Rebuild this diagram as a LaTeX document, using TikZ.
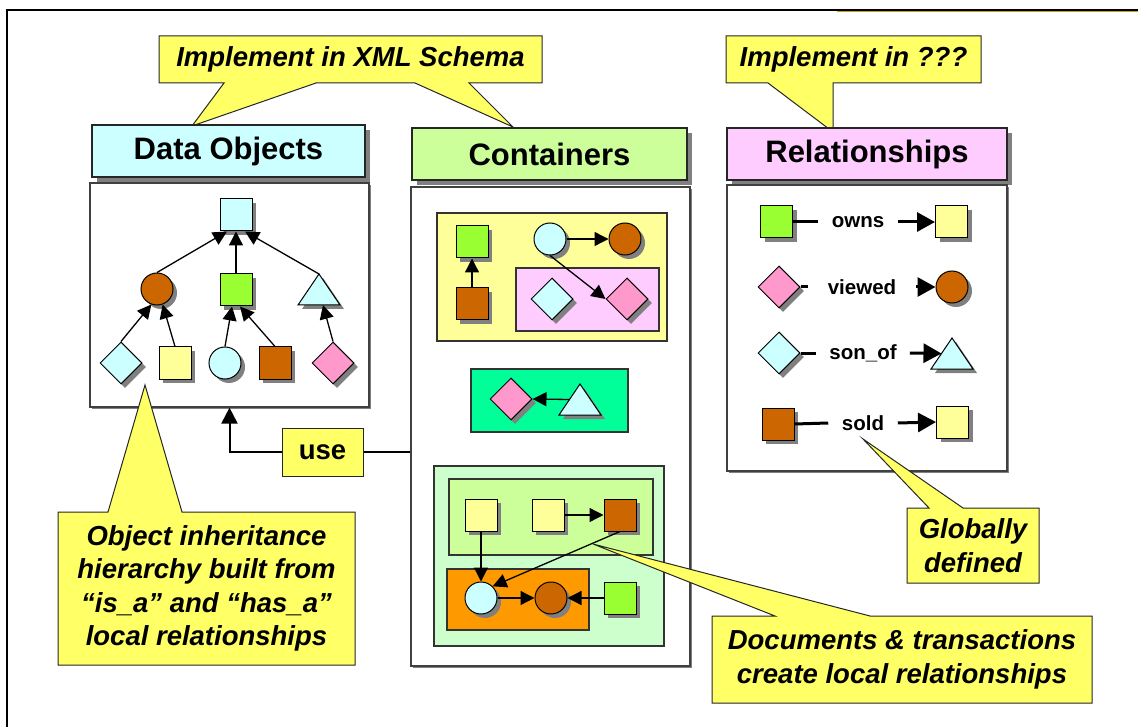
\documentclass[tikz,border=0pt]{standalone}
\usepackage{fontspec}
\setmainfont{Liberation Sans}
\usetikzlibrary{arrows.meta,shapes.geometric,shadows,calc}

\definecolor{callout}{HTML}{FFFF66}
\definecolor{hdcyan}{HTML}{CCFFFF}
\definecolor{hdgreen}{HTML}{CCFF99}
\definecolor{hdpink}{HTML}{FFCCFF}
\definecolor{shcyan}{HTML}{CCFFFF}
\definecolor{shbrown}{HTML}{CC6600}
\definecolor{shlime}{HTML}{99FF33}
\definecolor{shyellow}{HTML}{FFFF99}
\definecolor{shpink}{HTML}{FF99CC}
\definecolor{pnlteal}{HTML}{00FF99}
\definecolor{pnlorange}{HTML}{FF9900}
\definecolor{pnlmint}{HTML}{CCFFCC}
\definecolor{shadowgray}{HTML}{808080}
\definecolor{rulegold}{HTML}{C8A400}

\tikzset{
  shd/.style={general shadow={fill=shadowgray, shadow xshift=4pt, shadow yshift=-4pt}},
  sq/.style={shd, rectangle, draw=black, line width=1pt, minimum size=32pt, inner sep=0pt},
  circ/.style={shd, circle, draw=black, line width=1pt, minimum size=32pt, inner sep=0pt},
  dia/.style={shd, diamond, draw=black, line width=1pt, minimum width=42pt, minimum height=42pt, inner sep=0pt},
  arr/.style={line width=1.3pt, -{Triangle[length=14pt,width=14pt]}},
  header/.style={rectangle, draw=black!85, line width=1.2pt, inner sep=0pt,
    general shadow={fill=shadowgray, shadow xshift=5pt, shadow yshift=-5pt},
    font=\fontsize{31}{36}\selectfont\bfseries},
  body/.style={rectangle, draw=black!75, fill=white, line width=1.2pt, inner sep=0pt,
    general shadow={fill=shadowgray, shadow xshift=2pt, shadow yshift=-2pt}},
  panel/.style={rectangle, draw=black!80, line width=1.2pt, inner sep=0pt},
  callbox/.style={fill=callout, draw=black!85, line width=1pt, line join=miter},
  calltext/.style={font=\fontsize{27.5}{33.5}\selectfont\bfseries\itshape, align=center, inner sep=0pt},
  rlbl/.style={font=\fontsize{20.5}{24}\selectfont\bfseries, inner ysep=0pt, inner xsep=14pt},
  rline/.style={line width=3pt},
  rarr/.style={line width=3pt, -{Triangle[length=18pt,width=19pt]}},
}

% triangle with drop shadow: name, apex x, apex y, fill colour
\newcommand\trinode[4]{%
  \fill[shadowgray] ($(#2,#3)+(4,4)$) -- ++(21,31) -- ++(-42,0) -- cycle;
  \draw[fill=#4, line width=1pt, line join=miter]
    (#2,#3) coordinate (#1-apex) -- ++(21,31) coordinate (#1-right)
    -- ++(-42,0) coordinate (#1-left) -- cycle;
  \coordinate (#1-base) at ($(#1-left)!0.5!(#1-right)$);
  \coordinate (#1-wmid) at ($(#1-apex)!0.5!(#1-left)$);
}

\begin{document}
\begin{tikzpicture}[x=1pt, y=-1pt]
\useasboundingbox (0,0) rectangle (1138,727);

% page frame
\draw[line width=2pt] (6.5,727) -- (6.5,10) -- (1138,10);
\draw[rulegold, line width=1pt] (837,11.8) -- (1138,11.8);

% ---- upper callouts
\draw[callbox] (159,36) -- (542,36) -- (542,83) -- (469,83) -- (513,127)
  -- (415,83) -- (316,83) -- (192,126) -- (224,83) -- (159,83) -- cycle;
\node[calltext] (co-xml) at (350.5,59.5) {Implement in XML Schema};

\draw[callbox] (726,36) -- (981,36) -- (981,83) -- (833,83) -- (833,132)
  -- (768,83) -- (726,83) -- cycle;
\node[calltext] (co-qq) at (853.5,59.5) {Implement in ???};

% ---- headers
\node[header, fill=hdcyan, minimum width=273pt, minimum height=52pt] (do-head) at (228.5,151) {Data Objects};
\node[header, fill=hdgreen, minimum width=275pt, minimum height=52pt] (ct-head) at (549.5,154) {Containers};
\node[header, fill=hdpink, minimum width=280pt, minimum height=52pt] (rl-head) at (867,154) {Relationships};

% ---- bodies
\node[body, minimum width=279pt, minimum height=224pt] (do-body) at (229.5,295) {};
\node[body, minimum width=279pt, minimum height=479pt] (ct-body) at (550.5,426.5) {};
\node[body, minimum width=280pt, minimum height=286pt] (rl-body) at (867,328) {};

% ---- data object hierarchy
\node[sq, fill=shcyan] (do-top) at (236,215) {};
\node[circ, fill=shbrown] (do-circ) at (157,289) {};
\node[sq, fill=shlime] (do-green) at (236,290) {};
\trinode{do-tri}{319}{274}{shcyan}
\node[dia, fill=shcyan] (do-dia) at (121,363) {};
\node[sq, fill=shyellow] (do-ysq) at (175,363) {};
\node[circ, fill=shcyan] (do-ccirc) at (225,363) {};
\node[sq, fill=shbrown] (do-bsq) at (275,363) {};
\node[dia, fill=shpink] (do-pdia) at (333,363) {};

\draw[arr] (do-circ.north) -- ($(do-top.south)+(-9,0)$);
\draw[arr] (do-green.north) -- (do-top.south);
\draw[arr] (do-tri-apex) -- ($(do-top.south)+(9,0)$);
\draw[arr] (do-dia.north) -- (do-circ.250);
\draw[arr] (do-ysq.north) -- (do-circ.290);
\draw[arr] (do-ccirc.north) -- ($(do-green.south)+(-4,0)$);
\draw[arr] (do-bsq.north) -- ($(do-green.south)+(4,0)$);
\draw[arr] (do-pdia.north) -- ($(do-tri-base)+(4,0)$);

% ---- containers: first document
\node[panel, fill=shyellow, minimum width=230pt, minimum height=128pt] (c1-panel) at (552,277) {};
\node[panel, fill=hdpink, minimum width=143pt, minimum height=63pt] (c1-sub) at (587.5,299.5) {};
\node[sq, fill=shlime] (c1-g) at (472,242) {};
\node[sq, fill=shbrown] (c1-b) at (472,304) {};
\node[circ, fill=shcyan] (c1-cc) at (550,239) {};
\node[circ, fill=shbrown] (c1-bc) at (625,239) {};
\node[dia, fill=shcyan] (c1-cd) at (552,299) {};
\node[dia, fill=shpink] (c1-pd) at (627,299) {};
\draw[arr] (c1-b.north) -- (c1-g.south);
\draw[arr] (c1-cc.east) -- (c1-bc.west);
\draw[arr] (c1-cc.south) -- (c1-pd.west);

% ---- containers: second document
\node[panel, fill=pnlteal, minimum width=157pt, minimum height=63pt] (c2-panel) at (549.5,400.5) {};
\node[dia, fill=shpink] (c2-pd) at (511,399) {};
\trinode{c2-tri}{580}{384}{shcyan}
\draw[arr] (c2-tri-wmid) -- (c2-pd.east);

% ---- containers: transaction
\node[panel, fill=pnlmint, minimum width=230pt, minimum height=180pt] (c3-panel) at (549,556) {};
\node[panel, fill=hdgreen, minimum width=204pt, minimum height=76pt] (c3-top) at (551,517) {};
\node[panel, fill=pnlorange, minimum width=142pt, minimum height=61pt] (c3-low) at (518,599.5) {};
\node[sq, fill=shyellow] (c3-y1) at (481,515) {};
\node[sq, fill=shyellow] (c3-y2) at (548,515) {};
\node[sq, fill=shbrown] (c3-b) at (620,515) {};
\node[circ, fill=shcyan] (c3-cc) at (481,598) {};
\node[circ, fill=shbrown] (c3-bc) at (551,598) {};
\node[sq, fill=shlime] (c3-g) at (620,598) {};
\draw[arr] (c3-y2.east) -- (c3-b.west);
\draw[arr] (c3-y1.south) -- (c3-cc.north);
\draw[arr] (c3-b.south) -- (c3-cc.45);
\draw[arr] (c3-cc.east) -- (c3-bc.west);
\draw[arr] (c3-g.west) -- (c3-bc.east);

% ---- relationships
\node[sq, fill=shlime] (r1-a) at (776.5,222) {};
\node[rlbl] (r1-l) at (858,222) {owns};
\node[sq, fill=shyellow] (r1-b) at (951.5,222) {};
\draw[rline] (r1-a.east) -- (r1-l.west);
\draw[rarr] (r1-l.east) -- (r1-b.west);

\node[dia, fill=shpink] (r2-a) at (779,287) {};
\node[rlbl, inner xsep=20pt] (r2-l) at (862,287) {viewed};
\node[circ, fill=shbrown] (r2-b) at (952,287) {};
\draw[rline] (r2-a.east) -- (r2-l.west);
\draw[rarr] (r2-l.east) -- (r2-b.west);

\node[dia, fill=shcyan] (r3-a) at (779,353) {};
\node[rlbl, inner xsep=13pt] (r3-l) at (863,353) {son\_of};
\trinode{r3-b}{952}{338}{shcyan}
\draw[rline] (r3-a.east) -- (r3-l.west);
\draw[rarr] (r3-l.east) -- (r3-b-wmid);

\node[sq, fill=shbrown] (r4-a) at (778,424) {};
\node[rlbl, inner xsep=13.5pt] (r4-l) at (863,423) {sold};
\node[sq, fill=shyellow] (r4-b) at (952.5,422) {};
\draw[rline] (r4-a.east) -- (r4-l.west);
\draw[rarr] (r4-l.east) -- (r4-b.west);

% ---- "use" link from containers to data objects
\node[rectangle, draw=black!85, fill=callout, line width=1pt, minimum width=81pt, minimum height=48pt,
  inner sep=0pt, font=\fontsize{27.5}{33}\selectfont\bfseries] (use) at (322.5,452) {use};
\draw[line width=2pt] (ct-body.west |- use.east) -- (use.east);
\draw[line width=2pt, -{Triangle[length=16pt,width=16pt]}] (use.west) -| (do-body.south);

% ---- lower callouts
\draw[callbox] (58,512) -- (108,512) -- (145,385) -- (182,512) -- (355,512)
  -- (355,665) -- (58,665) -- cycle;
\node[calltext] (co-obj) at (206.5,588.5) {Object inheritance\\hierarchy built from\\“is\_a” and “has\_a”\\local relationships};

\draw[callbox] (907,508) -- (929,508) -- (863,439) -- (963,508) -- (1039,508)
  -- (1039,583) -- (907,583) -- cycle;
\node[calltext] (co-glob) at (973,545.5) {Globally\\defined};

\draw[callbox] (712,616) -- (775,616) -- (593,544) -- (870,616) -- (1092,616)
  -- (1092,703) -- (712,703) -- cycle;
\node[calltext] (co-doc) at (902,659.5) {Documents \& transactions\\create local relationships};

\end{tikzpicture}
\end{document}
